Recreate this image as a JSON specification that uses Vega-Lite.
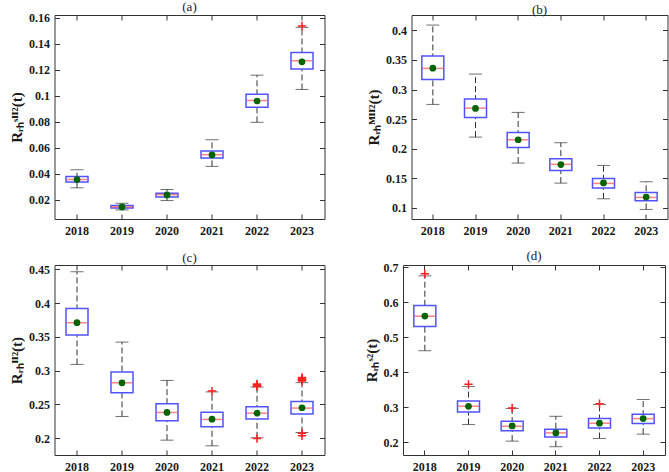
{
  "$schema": "https://vega.github.io/schema/vega-lite/v6.json",
  "background": "white",
  "padding": {"left": 8.5, "top": 0, "right": 4, "bottom": 0},
  "data": {"values": [
    {"panel":"a","kind":"box","year":"2018","lo":0.029,"q1":0.0334,"med":0.0354,"q3":0.0377,"hi":0.0429,"mean":0.0354},
    {"panel":"a","kind":"box","year":"2019","lo":0.012,"q1":0.0135,"med":0.0143,"q3":0.0153,"hi":0.0171,"mean":0.0143},
    {"panel":"a","kind":"box","year":"2020","lo":0.0192,"q1":0.022,"med":0.0238,"q3":0.0249,"hi":0.0277,"mean":0.0235},
    {"panel":"a","kind":"box","year":"2021","lo":0.0455,"q1":0.0519,"med":0.0545,"q3":0.0573,"hi":0.066,"mean":0.0543},
    {"panel":"a","kind":"box","year":"2022","lo":0.0794,"q1":0.091,"med":0.0962,"q3":0.1011,"hi":0.1157,"mean":0.0958},
    {"panel":"a","kind":"box","year":"2023","lo":0.1047,"q1":0.1204,"med":0.1268,"q3":0.1332,"hi":0.1525,"mean":0.126},
    {"panel":"a","kind":"out","year":"2023","value":0.1535},
    {"panel":"b","kind":"box","year":"2018","lo":0.2748,"q1":0.3171,"med":0.3357,"q3":0.3566,"hi":0.409,"mean":0.336},
    {"panel":"b","kind":"box","year":"2019","lo":0.2195,"q1":0.2528,"med":0.2685,"q3":0.2838,"hi":0.3261,"mean":0.268},
    {"panel":"b","kind":"box","year":"2020","lo":0.1756,"q1":0.202,"med":0.215,"q3":0.2274,"hi":0.2613,"mean":0.215},
    {"panel":"b","kind":"box","year":"2021","lo":0.1417,"q1":0.1632,"med":0.1735,"q3":0.1829,"hi":0.21,"mean":0.173},
    {"panel":"b","kind":"box","year":"2022","lo":0.1152,"q1":0.1333,"med":0.1412,"q3":0.1496,"hi":0.1716,"mean":0.142},
    {"panel":"b","kind":"box","year":"2023","lo":0.0972,"q1":0.1118,"med":0.1175,"q3":0.126,"hi":0.144,"mean":0.118},
    {"panel":"c","kind":"box","year":"2018","lo":0.3092,"q1":0.3527,"med":0.371,"q3":0.3922,"hi":0.4465,"mean":0.371},
    {"panel":"c","kind":"box","year":"2019","lo":0.2321,"q1":0.2672,"med":0.282,"q3":0.2978,"hi":0.3423,"mean":0.282},
    {"panel":"c","kind":"box","year":"2020","lo":0.197,"q1":0.2257,"med":0.238,"q3":0.2509,"hi":0.2855,"mean":0.238},
    {"panel":"c","kind":"box","year":"2021","lo":0.1886,"q1":0.2168,"med":0.2277,"q3":0.2385,"hi":0.2685,"mean":0.228},
    {"panel":"c","kind":"box","year":"2022","lo":0.2005,"q1":0.2282,"med":0.237,"q3":0.2464,"hi":0.2757,"mean":0.237},
    {"panel":"c","kind":"box","year":"2023","lo":0.2083,"q1":0.2356,"med":0.2445,"q3":0.2543,"hi":0.2822,"mean":0.245},
    {"panel":"c","kind":"out","year":"2021","value":0.2697},
    {"panel":"c","kind":"out","year":"2022","value":0.1995},
    {"panel":"c","kind":"out","year":"2022","value":0.2765},
    {"panel":"c","kind":"out","year":"2022","value":0.2778},
    {"panel":"c","kind":"out","year":"2022","value":0.279},
    {"panel":"c","kind":"out","year":"2022","value":0.2802},
    {"panel":"c","kind":"out","year":"2023","value":0.2074},
    {"panel":"c","kind":"out","year":"2023","value":0.2034},
    {"panel":"c","kind":"out","year":"2023","value":0.2845},
    {"panel":"c","kind":"out","year":"2023","value":0.2858},
    {"panel":"c","kind":"out","year":"2023","value":0.287},
    {"panel":"c","kind":"out","year":"2023","value":0.2885},
    {"panel":"c","kind":"out","year":"2023","value":0.2898},
    {"panel":"d","kind":"box","year":"2018","lo":0.461,"q1":0.5302,"med":0.5596,"q3":0.59,"hi":0.675,"mean":0.56},
    {"panel":"d","kind":"box","year":"2019","lo":0.25,"q1":0.286,"med":0.3025,"q3":0.317,"hi":0.359,"mean":0.302},
    {"panel":"d","kind":"box","year":"2020","lo":0.2027,"q1":0.232,"med":0.2452,"q3":0.2594,"hi":0.296,"mean":0.246},
    {"panel":"d","kind":"box","year":"2021","lo":0.1867,"q1":0.2141,"med":0.2263,"q3":0.2367,"hi":0.2736,"mean":0.226},
    {"panel":"d","kind":"box","year":"2022","lo":0.2103,"q1":0.2405,"med":0.2537,"q3":0.267,"hi":0.3075,"mean":0.254},
    {"panel":"d","kind":"box","year":"2023","lo":0.2226,"q1":0.2528,"med":0.267,"q3":0.2792,"hi":0.3217,"mean":0.267},
    {"panel":"d","kind":"out","year":"2018","value":0.681},
    {"panel":"d","kind":"out","year":"2019","value":0.365},
    {"panel":"d","kind":"out","year":"2020","value":0.2975},
    {"panel":"d","kind":"out","year":"2022","value":0.3094}
  ]},
  "vconcat": [
    {"hconcat": [
      {
        "width": 270, "height": 204,
        "title": {"text": "(a)"},
        "transform": [{"filter": "datum.panel == 'a'"}],
        "encoding": {"x": {"field": "year", "type": "ordinal", "scale": {"type": "band", "paddingInner": 0, "paddingOuter": 0}, "axis": null}},
        "layer": [
          {"transform": [{"filter": "datum.kind == 'box'"}], "mark": {"type": "rule", "strokeDash": [6, 3], "color": "#333", "strokeWidth": 1},
           "encoding": {"x": {"field": "year", "type": "ordinal", "scale": {"type": "band", "paddingInner": 0, "paddingOuter": 0}, "axis": {"orient": "bottom", "title": null}},
             "y": {"field": "lo", "type": "quantitative", "scale": {"domain": [0.005, 0.162], "nice": false, "zero": false}, "axis": {"orient": "left", "values": [0.02,0.04,0.06,0.08,0.1,0.12,0.14,0.16], "format": "~g", "title": "Rᵣₕˢᴵᴵ²(t)"}},
             "y2": {"field": "hi"}}},
          {"transform": [{"filter": "datum.kind == 'box'"}], "mark": {"type": "tick", "color": "#333", "size": 13, "thickness": 1},
           "encoding": {"y": {"field": "hi", "type": "quantitative", "scale": {"domain": [0.005, 0.162], "nice": false, "zero": false}, "axis": null}}},
          {"transform": [{"filter": "datum.kind == 'box'"}], "mark": {"type": "tick", "color": "#333", "size": 13, "thickness": 1},
           "encoding": {"y": {"field": "lo", "type": "quantitative", "scale": {"domain": [0.005, 0.162], "nice": false, "zero": false}, "axis": null}}},
          {"transform": [{"filter": "datum.kind == 'box'"}], "mark": {"type": "bar", "fill": "white", "stroke": "#5252ff", "strokeWidth": 1.5, "size": 22},
           "encoding": {"y": {"field": "q1", "type": "quantitative", "scale": {"domain": [0.005, 0.162], "nice": false, "zero": false}, "axis": null}, "y2": {"field": "q3"}}},
          {"transform": [{"filter": "datum.kind == 'box'"}], "mark": {"type": "tick", "color": "#ff5050", "size": 21, "thickness": 1.5},
           "encoding": {"y": {"field": "med", "type": "quantitative", "scale": {"domain": [0.005, 0.162], "nice": false, "zero": false}, "axis": null}}},
          {"transform": [{"filter": "datum.kind == 'box'"}], "mark": {"type": "point", "filled": true, "color": "#006400", "opacity": 1, "size": 45},
           "encoding": {"x": {"field": "year", "type": "ordinal", "scale": {"type": "band", "paddingInner": 0, "paddingOuter": 0}, "axis": {"orient": "top", "labels": false, "title": null}},
             "y": {"field": "mean", "type": "quantitative", "scale": {"domain": [0.005, 0.162], "nice": false, "zero": false}, "axis": {"orient": "right", "labels": false, "title": null, "values": [0.02,0.04,0.06,0.08,0.1,0.12,0.14,0.16]}}}},
          {"transform": [{"filter": "datum.kind == 'out'"}], "mark": {"type": "point", "shape": "M-1,0L1,0M0,-1L0,1", "filled": false, "color": "#ff2020", "strokeWidth": 1.5, "opacity": 1, "size": 70},
           "encoding": {"y": {"field": "value", "type": "quantitative", "scale": {"domain": [0.005, 0.162], "nice": false, "zero": false}, "axis": null}}}
        ],
        "resolve": {"axis": {"x": "independent", "y": "independent"}}
      },
      {
        "width": 256, "height": 204,
        "title": {"text": "(b)"},
        "transform": [{"filter": "datum.panel == 'b'"}],
        "encoding": {"x": {"field": "year", "type": "ordinal", "scale": {"type": "band", "paddingInner": 0, "paddingOuter": 0}, "axis": null}},
        "layer": [
          {"transform": [{"filter": "datum.kind == 'box'"}], "mark": {"type": "rule", "strokeDash": [6, 3], "color": "#333", "strokeWidth": 1},
           "encoding": {"x": {"field": "year", "type": "ordinal", "scale": {"type": "band", "paddingInner": 0, "paddingOuter": 0}, "axis": {"orient": "bottom", "title": null}},
             "y": {"field": "lo", "type": "quantitative", "scale": {"domain": [0.081, 0.426], "nice": false, "zero": false}, "axis": {"orient": "left", "values": [0.1,0.15,0.2,0.25,0.3,0.35,0.4], "format": "~g", "title": "Rᵣₕᴹᴵᴵ²(t)"}},
             "y2": {"field": "hi"}}},
          {"transform": [{"filter": "datum.kind == 'box'"}], "mark": {"type": "tick", "color": "#333", "size": 13, "thickness": 1},
           "encoding": {"y": {"field": "hi", "type": "quantitative", "scale": {"domain": [0.081, 0.426], "nice": false, "zero": false}, "axis": null}}},
          {"transform": [{"filter": "datum.kind == 'box'"}], "mark": {"type": "tick", "color": "#333", "size": 13, "thickness": 1},
           "encoding": {"y": {"field": "lo", "type": "quantitative", "scale": {"domain": [0.081, 0.426], "nice": false, "zero": false}, "axis": null}}},
          {"transform": [{"filter": "datum.kind == 'box'"}], "mark": {"type": "bar", "fill": "white", "stroke": "#5252ff", "strokeWidth": 1.5, "size": 22},
           "encoding": {"y": {"field": "q1", "type": "quantitative", "scale": {"domain": [0.081, 0.426], "nice": false, "zero": false}, "axis": null}, "y2": {"field": "q3"}}},
          {"transform": [{"filter": "datum.kind == 'box'"}], "mark": {"type": "tick", "color": "#ff5050", "size": 21, "thickness": 1.5},
           "encoding": {"y": {"field": "med", "type": "quantitative", "scale": {"domain": [0.081, 0.426], "nice": false, "zero": false}, "axis": null}}},
          {"transform": [{"filter": "datum.kind == 'box'"}], "mark": {"type": "point", "filled": true, "color": "#006400", "opacity": 1, "size": 45},
           "encoding": {"x": {"field": "year", "type": "ordinal", "scale": {"type": "band", "paddingInner": 0, "paddingOuter": 0}, "axis": {"orient": "top", "labels": false, "title": null}},
             "y": {"field": "mean", "type": "quantitative", "scale": {"domain": [0.081, 0.426], "nice": false, "zero": false}, "axis": {"orient": "right", "labels": false, "title": null, "values": [0.1,0.15,0.2,0.25,0.3,0.35,0.4]}}}}
        ],
        "resolve": {"axis": {"x": "independent", "y": "independent"}}
      }
    ], "spacing": 40},
    {"hconcat": [
      {
        "width": 270, "height": 190,
        "title": {"text": "(c)"},
        "transform": [{"filter": "datum.panel == 'c'"}],
        "encoding": {"x": {"field": "year", "type": "ordinal", "scale": {"type": "band", "paddingInner": 0, "paddingOuter": 0}, "axis": null}},
        "layer": [
          {"transform": [{"filter": "datum.kind == 'box'"}], "mark": {"type": "rule", "strokeDash": [6, 3], "color": "#333", "strokeWidth": 1},
           "encoding": {"x": {"field": "year", "type": "ordinal", "scale": {"type": "band", "paddingInner": 0, "paddingOuter": 0}, "axis": {"orient": "bottom", "title": null}},
             "y": {"field": "lo", "type": "quantitative", "scale": {"domain": [0.175, 0.4565], "nice": false, "zero": false}, "axis": {"orient": "left", "values": [0.2,0.25,0.3,0.35,0.4,0.45], "format": "~g", "title": "Rᵣₕᴵᴵ²(t)"}},
             "y2": {"field": "hi"}}},
          {"transform": [{"filter": "datum.kind == 'box'"}], "mark": {"type": "tick", "color": "#333", "size": 13, "thickness": 1},
           "encoding": {"y": {"field": "hi", "type": "quantitative", "scale": {"domain": [0.175, 0.4565], "nice": false, "zero": false}, "axis": null}}},
          {"transform": [{"filter": "datum.kind == 'box'"}], "mark": {"type": "tick", "color": "#333", "size": 13, "thickness": 1},
           "encoding": {"y": {"field": "lo", "type": "quantitative", "scale": {"domain": [0.175, 0.4565], "nice": false, "zero": false}, "axis": null}}},
          {"transform": [{"filter": "datum.kind == 'box'"}], "mark": {"type": "bar", "fill": "white", "stroke": "#5252ff", "strokeWidth": 1.5, "size": 22},
           "encoding": {"y": {"field": "q1", "type": "quantitative", "scale": {"domain": [0.175, 0.4565], "nice": false, "zero": false}, "axis": null}, "y2": {"field": "q3"}}},
          {"transform": [{"filter": "datum.kind == 'box'"}], "mark": {"type": "tick", "color": "#ff5050", "size": 21, "thickness": 1.5},
           "encoding": {"y": {"field": "med", "type": "quantitative", "scale": {"domain": [0.175, 0.4565], "nice": false, "zero": false}, "axis": null}}},
          {"transform": [{"filter": "datum.kind == 'box'"}], "mark": {"type": "point", "filled": true, "color": "#006400", "opacity": 1, "size": 45},
           "encoding": {"x": {"field": "year", "type": "ordinal", "scale": {"type": "band", "paddingInner": 0, "paddingOuter": 0}, "axis": {"orient": "top", "labels": false, "title": null}},
             "y": {"field": "mean", "type": "quantitative", "scale": {"domain": [0.175, 0.4565], "nice": false, "zero": false}, "axis": {"orient": "right", "labels": false, "title": null, "values": [0.2,0.25,0.3,0.35,0.4,0.45]}}}},
          {"transform": [{"filter": "datum.kind == 'out'"}], "mark": {"type": "point", "shape": "M-1,0L1,0M0,-1L0,1", "filled": false, "color": "#ff2020", "strokeWidth": 1.5, "opacity": 1, "size": 70},
           "encoding": {"y": {"field": "value", "type": "quantitative", "scale": {"domain": [0.175, 0.4565], "nice": false, "zero": false}, "axis": null}}}
        ],
        "resolve": {"axis": {"x": "independent", "y": "independent"}}
      },
      {
        "width": 262, "height": 190,
        "title": {"text": "(d)"},
        "transform": [{"filter": "datum.panel == 'd'"}],
        "encoding": {"x": {"field": "year", "type": "ordinal", "scale": {"type": "band", "paddingInner": 0, "paddingOuter": 0}, "axis": null}},
        "layer": [
          {"transform": [{"filter": "datum.kind == 'box'"}], "mark": {"type": "rule", "strokeDash": [6, 3], "color": "#333", "strokeWidth": 1},
           "encoding": {"x": {"field": "year", "type": "ordinal", "scale": {"type": "band", "paddingInner": 0, "paddingOuter": 0}, "axis": {"orient": "bottom", "title": null}},
             "y": {"field": "lo", "type": "quantitative", "scale": {"domain": [0.163, 0.706], "nice": false, "zero": false}, "axis": {"orient": "left", "values": [0.2,0.3,0.4,0.5,0.6,0.7], "format": "~g", "title": "Rᵣₕˢ²(t)"}},
             "y2": {"field": "hi"}}},
          {"transform": [{"filter": "datum.kind == 'box'"}], "mark": {"type": "tick", "color": "#333", "size": 13, "thickness": 1},
           "encoding": {"y": {"field": "hi", "type": "quantitative", "scale": {"domain": [0.163, 0.706], "nice": false, "zero": false}, "axis": null}}},
          {"transform": [{"filter": "datum.kind == 'box'"}], "mark": {"type": "tick", "color": "#333", "size": 13, "thickness": 1},
           "encoding": {"y": {"field": "lo", "type": "quantitative", "scale": {"domain": [0.163, 0.706], "nice": false, "zero": false}, "axis": null}}},
          {"transform": [{"filter": "datum.kind == 'box'"}], "mark": {"type": "bar", "fill": "white", "stroke": "#5252ff", "strokeWidth": 1.5, "size": 22},
           "encoding": {"y": {"field": "q1", "type": "quantitative", "scale": {"domain": [0.163, 0.706], "nice": false, "zero": false}, "axis": null}, "y2": {"field": "q3"}}},
          {"transform": [{"filter": "datum.kind == 'box'"}], "mark": {"type": "tick", "color": "#ff5050", "size": 21, "thickness": 1.5},
           "encoding": {"y": {"field": "med", "type": "quantitative", "scale": {"domain": [0.163, 0.706], "nice": false, "zero": false}, "axis": null}}},
          {"transform": [{"filter": "datum.kind == 'box'"}], "mark": {"type": "point", "filled": true, "color": "#006400", "opacity": 1, "size": 45},
           "encoding": {"x": {"field": "year", "type": "ordinal", "scale": {"type": "band", "paddingInner": 0, "paddingOuter": 0}, "axis": {"orient": "top", "labels": false, "title": null}},
             "y": {"field": "mean", "type": "quantitative", "scale": {"domain": [0.163, 0.706], "nice": false, "zero": false}, "axis": {"orient": "right", "labels": false, "title": null, "values": [0.2,0.3,0.4,0.5,0.6,0.7]}}}},
          {"transform": [{"filter": "datum.kind == 'out'"}], "mark": {"type": "point", "shape": "M-1,0L1,0M0,-1L0,1", "filled": false, "color": "#ff2020", "strokeWidth": 1.5, "opacity": 1, "size": 70},
           "encoding": {"y": {"field": "value", "type": "quantitative", "scale": {"domain": [0.163, 0.706], "nice": false, "zero": false}, "axis": null}}}
        ],
        "resolve": {"axis": {"x": "independent", "y": "independent"}}
      }
    ], "spacing": 37.5}
  ],
  "spacing": 12,
  "config": {
    "view": {"stroke": "#333", "strokeWidth": 1},
    "title": {"font": "Liberation Serif", "fontSize": 13, "fontWeight": "normal", "color": "#1a1a1a", "offset": -2},
    "axis": {"labelFont": "Liberation Serif", "labelFontWeight": "bold", "labelFontSize": 12, "labelColor": "#1a1a1a",
             "tickColor": "#333", "tickSize": -5, "domain": false, "grid": false,
             "titleFont": "Liberation Serif", "titleFontSize": 15, "titleFontWeight": "bold", "titleColor": "#1a1a1a", "titlePadding": 4},
    "axisX": {"labelAngle": 0, "labelPadding": 11},
    "axisY": {"labelPadding": 10}
  }
}
